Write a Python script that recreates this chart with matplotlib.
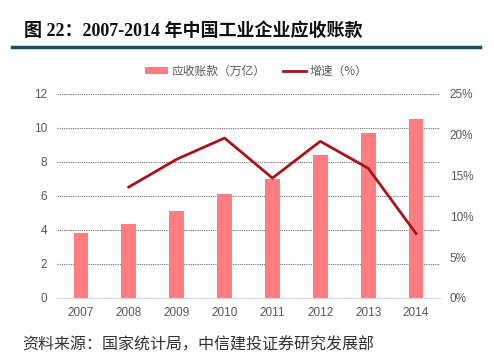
#!/usr/bin/env python3
"""Industrial enterprise receivables 2007-2014: bars plus growth line."""

import matplotlib
matplotlib.use("Agg")
import matplotlib.pyplot as plt
from matplotlib.lines import Line2D
from matplotlib.patches import Patch
from matplotlib.ticker import FuncFormatter

plt.rcParams["font.family"] = ["Liberation Sans", "Noto Sans CJK SC", "DejaVu Sans"]

years = ["2007", "2008", "2009", "2010", "2011", "2012", "2013", "2014"]
receivables = [3.84, 4.35, 5.12, 6.12, 7.0, 8.39, 9.72, 10.51]  # 万亿
growth = [None, 13.6, 17.0, 19.6, 14.7, 19.2, 15.9, 7.9]  # %

BAR_COLOR = "#ff7c80"
LINE_COLOR = "#a8131c"
TICK_COLOR = "#595959"
CJK = ["Noto Sans CJK SC", "DejaVu Sans"]

fig = plt.figure(figsize=(4.94, 3.61), dpi=100)
ax = fig.add_axes([57 / 494, 63 / 361, 383 / 494, 204 / 361])
ax2 = ax.twinx()

x = list(range(len(years)))
ax.bar(x, receivables, width=0.31, color=BAR_COLOR, zorder=2)
ax.set_xlim(-0.5, len(years) - 0.5)
ax.set_ylim(0, 12)
ax.set_yticks(range(0, 13, 2))
ax.set_xticks(x)
ax.set_xticklabels(years)
ax.yaxis.grid(True, linestyle=(0, (1, 1)), color="#6f6f6f", linewidth=0.8, zorder=0)
ax.set_axisbelow(True)

gx = [i for i, g in zip(x, growth) if g is not None]
gy = [g for g in growth if g is not None]
ax2.plot(gx, gy, color=LINE_COLOR, linewidth=2, zorder=3)
ax2.set_ylim(0, 25)
ax2.set_yticks(range(0, 26, 5))
ax2.yaxis.set_major_formatter(FuncFormatter(lambda v, _: f"{v:.0f}%"))

for a in (ax, ax2):
    for s in a.spines.values():
        s.set_visible(False)
    a.tick_params(length=0, labelsize=8.5, colors=TICK_COLOR)
ax.spines["bottom"].set_visible(True)
ax.spines["bottom"].set_color("#d9d9d9")
ax.tick_params(axis="y", pad=7)
ax.tick_params(axis="x", pad=6.5)
ax2.tick_params(axis="y", pad=7)

handles = [
    Patch(facecolor=BAR_COLOR, edgecolor="none"),
    Line2D([0], [0], color=LINE_COLOR, linewidth=2),
]
fig.legend(handles, ["应收账款（万亿）", "增速（%）"], loc="center",
           bbox_to_anchor=(0.518, 1 - 71 / 361), ncol=2, frameon=False,
           prop={"family": CJK, "size": 8.5}, labelcolor=TICK_COLOR,
           handlelength=2.0, handleheight=0.6, columnspacing=1.5,
           handletextpad=0.25)

fig.text(24 / 494, 1 - 31 / 361, "图 22：2007-2014 年中国工业企业应收账款",
         fontsize=13, fontweight="bold", va="center", ha="left",
         color="#111111", family=["Liberation Serif", "Noto Sans CJK SC"])
fig.add_artist(Line2D([12 / 494, 480 / 494], [1 - 47 / 361] * 2,
                      color="#1f4e64", linewidth=2.5))
fig.text(22 / 494, 1 - 345 / 361, "资料来源：国家统计局，中信建投证券研究发展部",
         fontsize=11.5, va="center", ha="left", color="#333333", family=CJK)

fig.savefig("out.png", dpi=100)
